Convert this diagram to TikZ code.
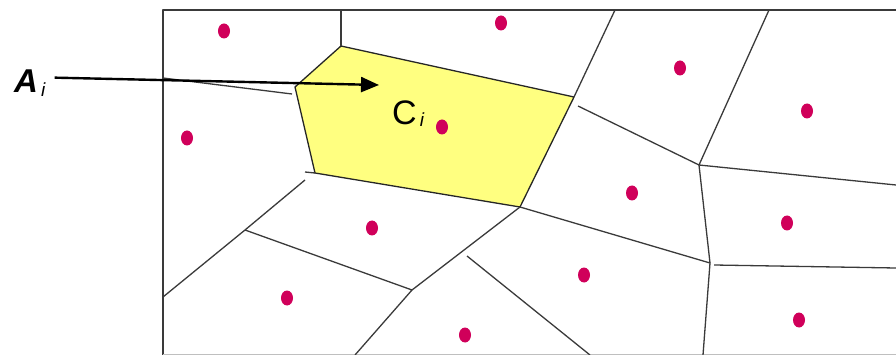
\documentclass[tikz,border=0pt]{standalone}
\usepackage{fontspec}
\setsansfont{Liberation Sans}
\usetikzlibrary{arrows.meta,calc}
\definecolor{cellfill}{HTML}{FFFF80}
\definecolor{seed}{HTML}{D0005A}
\definecolor{edge}{HTML}{3A3A3A}

\begin{document}
\begin{tikzpicture}[x=1pt, y=-1pt, line join=round,
  every node/.style={font=\sffamily, inner sep=0pt},
  cell/.style={draw=edge, line width=1.3pt},
  site/.style={fill=seed, draw=none},
  pointer/.style={-{Triangle[length=18pt,width=15pt]}, line width=2.4pt, draw=black}]
  \useasboundingbox (0,0) rectangle (896,355);
  % frame
  \draw[edge, line width=1.3pt] (163,355) -- (163,10) -- (896,10);
  \draw[black!25, line width=0.8pt] (163,354) -- (896,354);
  % highlighted cell C_i
  \coordinate (c1) at (341,46);
  \coordinate (c2) at (574,97);
  \coordinate (c3) at (520,207);
  \coordinate (c4) at (315,173);
  \coordinate (c5) at (295,87);
  \filldraw[fill=cellfill, draw=black!85, line width=1.3pt] (c1) -- (c2) -- (c3) -- (c4) -- (c5) -- cycle;
  % other vertices
  \coordinate (w1) at (245,230);
  \coordinate (w2) at (412,290);
  \coordinate (w3) at (710,263);
  \coordinate (w4) at (699,165);
  % remaining edges
  \draw[cell] (c1) -- (341,10);
  \draw[cell] (163,78) -- (292,94);
  \draw[cell] (305,172) -- (c4);
  \draw[cell] (305,180) -- (w1) -- (163,297);
  \draw[cell] (w1) -- (w2) -- (355,355);
  \draw[cell] (w2) -- (c3) -- (w3) -- (703,355);
  \draw[cell] (w3) -- (w4) -- (769,10);
  \draw[cell] (w4) -- (578,106);
  \draw[cell] (w4) -- (896,185);
  \draw[cell] (714,265) -- (896,268);
  \draw[cell] (c2) -- (615,10);
  \draw[cell] (467,256) -- (590,355);
  % sites
  \foreach \px/\py in {224/31, 501/23, 187/138, 442/127, 372/228, 287/298, 465/335,
                       584/275, 680/68, 807/111, 632/193, 787/223, 799/320}
    \fill[site] (\px,\py) ellipse (6pt and 7.5pt);
  % labels
  \node[anchor=base west] (ai) at (14,93)
    {\fontsize{33}{36}\selectfont\bfseries\itshape A\raisebox{-4pt}{\fontsize{19}{20}\selectfont\mdseries\,i}};
  \node[anchor=base west] (ci) at (392,125)
    {\fontsize{34}{36}\selectfont C\raisebox{-2pt}{\fontsize{19}{20}\selectfont\itshape\,i}};
  \coordinate (tip) at (379,85);
  \draw[pointer] ($(ai.east)+(9,-6)$) -- (tip);
\end{tikzpicture}
\end{document}
